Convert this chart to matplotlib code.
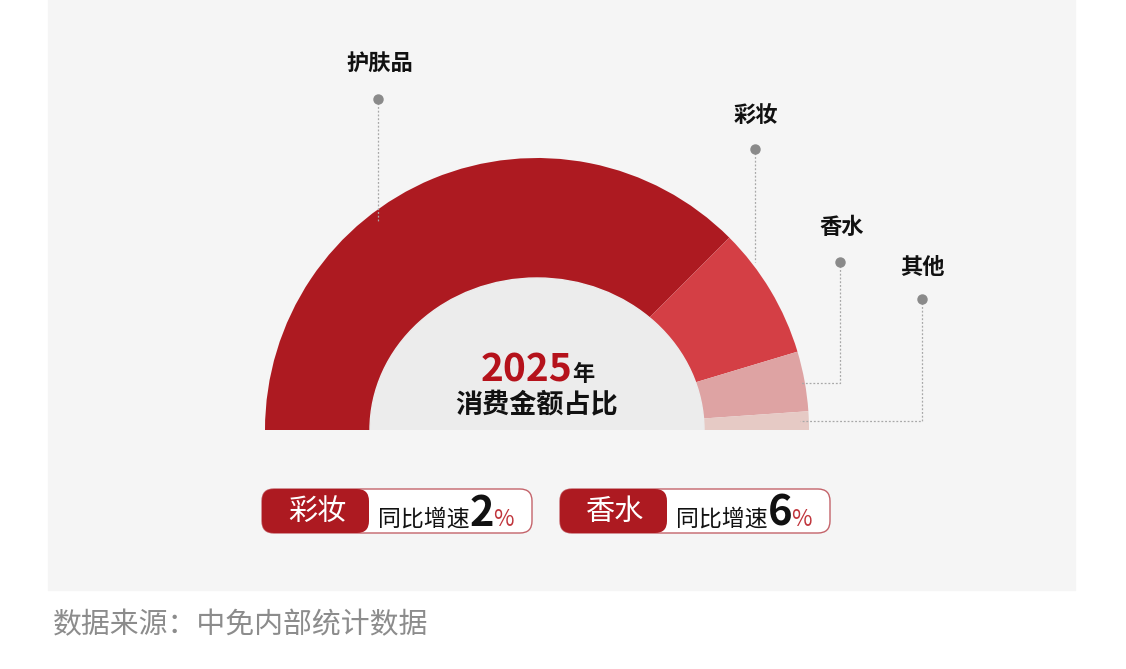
import matplotlib.pyplot as plt
from matplotlib.patches import Rectangle, Ellipse, FancyBboxPatch

plt.rcParams["font.family"] = ["Noto Sans CJK SC", "DejaVu Sans"]

# data
categories = ["护肤品", "彩妆", "香水", "其他"]
shares = [75.0, 15.7, 7.1, 2.2]
colors = ["#ad1a21", "#d43f45", "#dea3a3", "#e6cac5"]
badge_names = ["彩妆", "香水"]
badge_growth = [2, 6]
year = "2025"
source = "数据来源：中免内部统计数据"

W, H = 1126, 669


def fy(y):
    # pixel row (from top) -> data y
    return H - y


fig = plt.figure(figsize=(W / 100, H / 100), dpi=100)
fig.patch.set_facecolor("white")
ax = fig.add_axes([0, 0, 1, 1])

# background panel
ax.add_patch(Rectangle((48, fy(590)), 1075 - 48, 590, color="#f5f5f5", zorder=0))

cx, cy = 537, fy(430)
r_out = 272
hole_w, hole_h = 334, 304   # the hole is slightly squashed

# half donut: hidden lower half makes the visible part a semicircle
wedges, _ = ax.pie(
    shares + [sum(shares)],
    colors=colors + ["none"],
    startangle=180,
    counterclock=False,
    radius=r_out,
    center=(cx, cy),
    wedgeprops=dict(linewidth=0),
)
for w in wedges:
    w.set_zorder(2)

upper = Rectangle((0, cy), W, H - cy, transform=ax.transData)
hole = Ellipse((cx, cy), hole_w, hole_h, color="#ececec", zorder=3)
ax.add_patch(hole)
hole.set_clip_path(upper)

# leader lines
line_kw = dict(color="#a8a8a8", lw=0.9, ls=(0, (1.5, 1.5)), zorder=4)
dot_kw = dict(marker="o", ms=6.5, color="#8a8a8a", zorder=5)
label_kw = dict(fontsize=16, fontweight="bold", ha="center", va="center",
                color="#111111")

leaders = [
    # label xy, dot xy, path
    ((380, 63), (378, 99), [(378, 99), (378, 222)]),
    ((756, 116), (755, 149), [(755, 149), (755, 262)]),
    ((842, 228), (840, 262), [(840, 262), (840, 383), (800, 383)]),
    ((922, 268), (922, 299), [(922, 299), (922, 421), (800, 421)]),
]
for name, (lab, dot, path) in zip(categories, leaders):
    xs = [p[0] for p in path]
    ys = [fy(p[1]) for p in path]
    ax.plot(xs, ys, **line_kw)
    ax.plot(dot[0], fy(dot[1]), **dot_kw)
    ax.text(lab[0], fy(lab[1]), name, **label_kw)

# centre text
ax.text(572, fy(381), year, fontsize=28, fontweight="bold", color="#b5121b",
        ha="right", va="baseline", zorder=6)
ax.text(572, fy(381), "年", fontsize=16, fontweight="bold", color="#111111",
        ha="left", va="baseline", zorder=6)
ax.text(537, fy(405), "消费金额占比", fontsize=19.5, fontweight="bold",
        color="#111111", ha="center", va="center", zorder=6)

# growth badges
badge_x = [262, 560]
badge_w = 270
red_w = 107
by0, bh = 489, 44
for name, g, x0 in zip(badge_names, badge_growth, badge_x):
    ax.add_patch(FancyBboxPatch((x0, fy(by0 + bh)), badge_w, bh,
                                boxstyle="round,pad=0,rounding_size=12",
                                fc="white", ec="#c4636a", lw=1.0, zorder=3))
    ax.add_patch(FancyBboxPatch((x0, fy(by0 + bh)), red_w, bh,
                                boxstyle="round,pad=0,rounding_size=12",
                                fc="#ad1a21", ec="none", zorder=4))
    ax.text(x0 + red_w / 2 + 2, fy(512), name, fontsize=21, color="white",
            ha="center", va="center", zorder=5)
    ax.text(x0 + 116, fy(526), "同比增速", fontsize=16.5, color="#111111",
            ha="left", va="baseline", zorder=5)
    ax.text(x0 + 208, fy(526), str(g), fontsize=30, color="#111111",
            fontweight="bold", ha="left", va="baseline", zorder=5)
    ax.text(x0 + 231, fy(526), "%", fontsize=16, color="#c0353c",
            ha="left", va="baseline", zorder=5)

# source note
ax.text(53, fy(625), source, fontsize=20.8, color="#8c8c8c",
        ha="left", va="center")

ax.set_xlim(0, W)
ax.set_ylim(0, H)
ax.set_aspect("auto")
ax.axis("off")

fig.savefig("out.png", dpi=100, facecolor="white")
